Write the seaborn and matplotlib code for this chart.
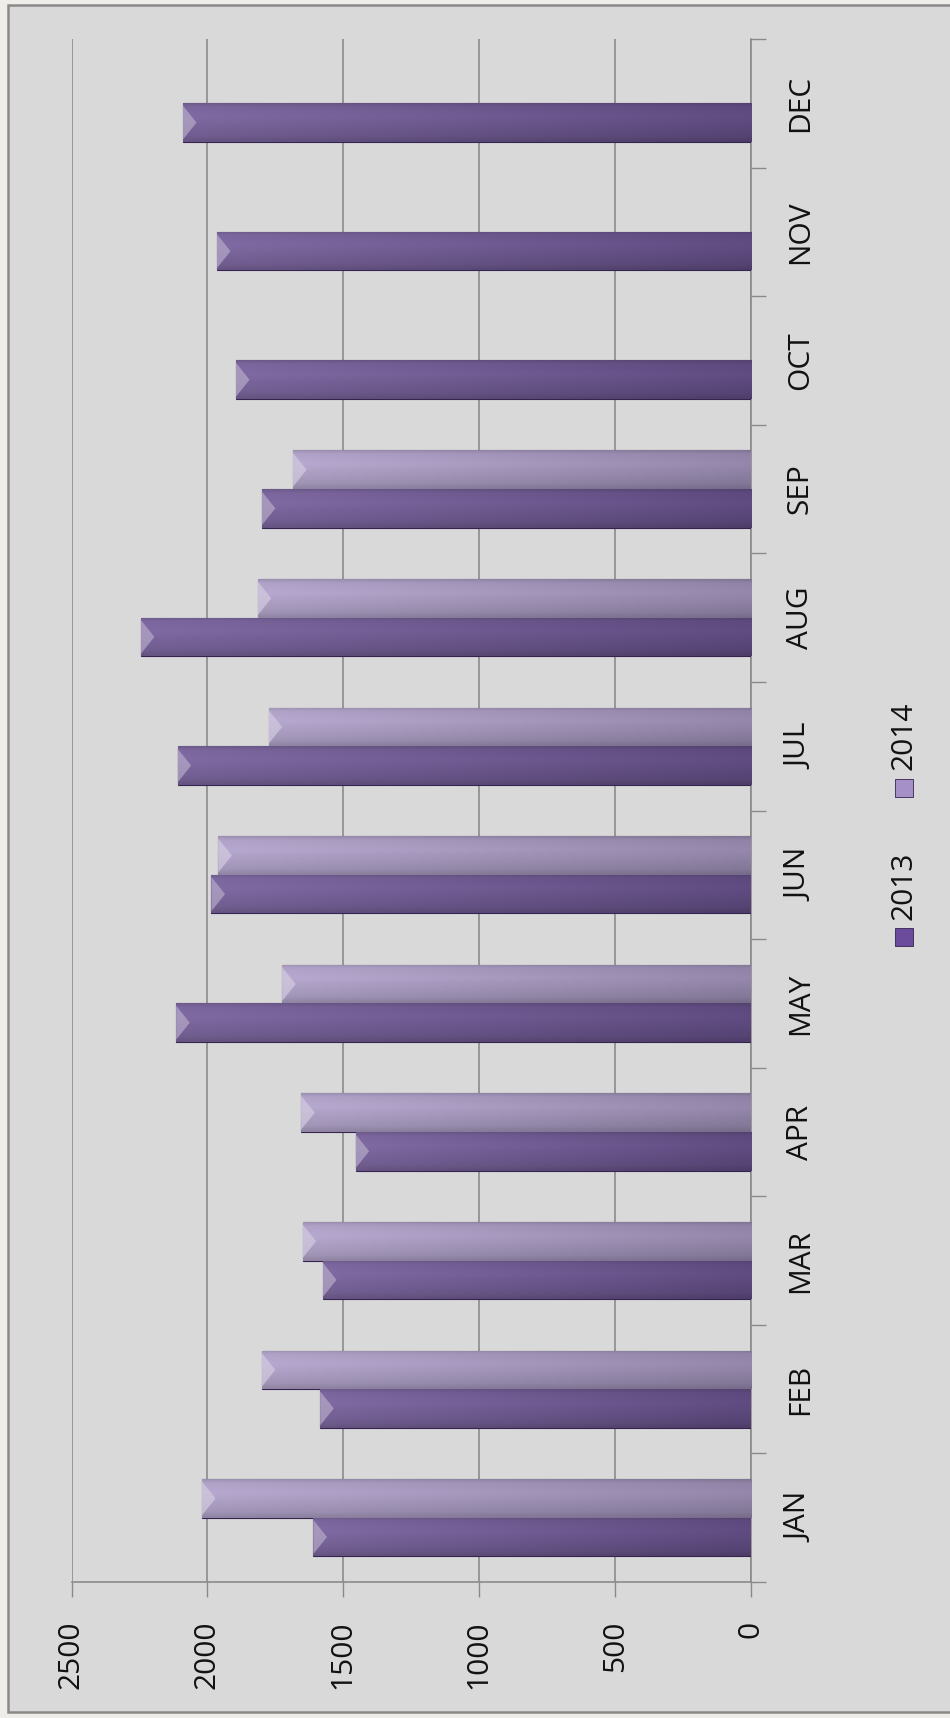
import numpy as np
import pandas as pd
import seaborn as sns
import matplotlib.pyplot as plt
from matplotlib.patches import Rectangle, Polygon
from matplotlib.colors import to_rgb

# Data
months = ['JAN', 'FEB', 'MAR', 'APR', 'MAY', 'JUN', 'JUL', 'AUG', 'SEP', 'OCT', 'NOV', 'DEC']
years = ['2013', '2014']
sales_2013 = [1610, 1585, 1575, 1455, 2115, 1985, 2110, 2245, 1800, 1895, 1965, 2090]
sales_2014 = [2020, 1800, 1650, 1655, 1725, 1960, 1775, 1815, 1685, np.nan, np.nan, np.nan]
value_ticks = [0, 500, 1000, 1500, 2000, 2500]
bar_colors = ['#6a4b9c', '#a591c8']

df = pd.DataFrame({'month': months * 2,
                   'year': [years[0]] * 12 + [years[1]] * 12,
                   'value': sales_2013 + sales_2014}).dropna()

sns.set_theme(style='white')
plt.rcParams['font.family'] = ['Open Sans', 'DejaVu Sans']

W, H = 950, 1718
fig = plt.figure(figsize=(W / 100, H / 100), dpi=100, facecolor='#eeede9')

# chart area frame, kept behind the axes
fig.patches.append(Rectangle((8 / W, 1 - 1712 / H), 1.0, (1712 - 5) / H, transform=fig.transFigure,
                             facecolor='#d9d9d9', edgecolor='#8a8a8a', lw=1.8, zorder=-5))

ax = fig.add_axes([71.5 / W, 1 - 1582 / H, (751 - 71.5) / W, (1582 - 39) / H])
ax.set_facecolor('none')

sns.barplot(data=df, x='value', y='month', hue='year', order=months, hue_order=years,
            palette=bar_colors, orient='h', width=0.6, errorbar=None, ax=ax, legend=False,
            edgecolor='#35244f', linewidth=0.8, zorder=3)

# shaded fill on each bar (lighter at the tip, darker toward the axis)
for p in list(ax.patches):
    w = p.get_width()
    if not np.isfinite(w) or w == 0:
        continue
    base = np.array(to_rgb(p.get_facecolor()))
    light = base + (1 - base) * 0.1
    dark = base * 0.86
    t = np.linspace(0, 1, 200)[None, :, None]
    img = light * (1 - t) + dark * t
    img = np.repeat(img, 30, axis=0)
    v = np.interp(np.linspace(0, 1, 30), [0, 0.15, 0.65, 0.92, 1], [0.82, 0.92, 1.04, 1.0, 0.9])
    img = np.clip(img * v[:, None, None], 0, 1)
    x0 = p.get_x()
    y0, h = p.get_y(), p.get_height()
    tip = x0 + w
    im = ax.imshow(img, extent=[tip, x0, y0, y0 + h], origin='lower', aspect='auto', zorder=3.1)
    im.set_clip_path(p)
    # bevelled highlight at the bar tip
    hl = base + (1 - base) * 0.5
    ax.add_patch(Polygon([[tip, y0 + 0.06 * h], [tip, y0 + 0.94 * h], [tip - 50, y0 + 0.5 * h]],
                         closed=True, facecolor=hl, edgecolor='none', alpha=0.7, zorder=3.2))

ax.set_xlim(2500, 0)
ax.set_ylim(-0.5, 11.5)

# value axis (bottom)
ax.set_xticks(value_ticks)
ax.set_xticklabels([str(v) for v in value_ticks], rotation=90, fontsize=21.5, color='#111111')
ax.tick_params(axis='x', direction='out', length=11, width=1, color='#8a8a8a', pad=17, bottom=True)
ax.grid(axis='x', color='#8c8c8c', lw=1.2, zorder=1)
ax.grid(axis='y', visible=False)

# month axis (right)
ax.yaxis.tick_right()
ax.set_yticks(range(len(months)))
ax.set_yticklabels(months, rotation=90, va='center', fontsize=21.5, color='#111111')
ax.set_yticks(np.arange(-0.5, 12, 1), minor=True)
ax.tick_params(axis='y', which='major', length=0, pad=25, right=True)
ax.tick_params(axis='y', which='minor', direction='out', length=11, width=1, color='#8a8a8a', right=True, left=False)
ax.set_xlabel('')
ax.set_ylabel('')

for side in ['top', 'left']:
    ax.spines[side].set_visible(False)
for side in ['right', 'bottom']:
    ax.spines[side].set_color('#8a8a8a')
    ax.spines[side].set_linewidth(1.2)

# legend, rotated like the rest of the chart
legend_text_y = [886, 736]
legend_mark_y = [937, 788]
for yr, col, ty, my in zip(years, bar_colors, legend_text_y, legend_mark_y):
    fig.patches.append(Rectangle(((904 - 9) / W, 1 - (my + 9) / H), 18 / W, 18 / H,
                                 transform=fig.transFigure, facecolor=col, edgecolor='#35244f', lw=0.6))
    fig.text(904 / W, 1 - ty / H, yr, rotation=90, ha='center', va='center', fontsize=21.5, color='#111111')

fig.savefig('out.png', dpi=100, facecolor=fig.get_facecolor())
